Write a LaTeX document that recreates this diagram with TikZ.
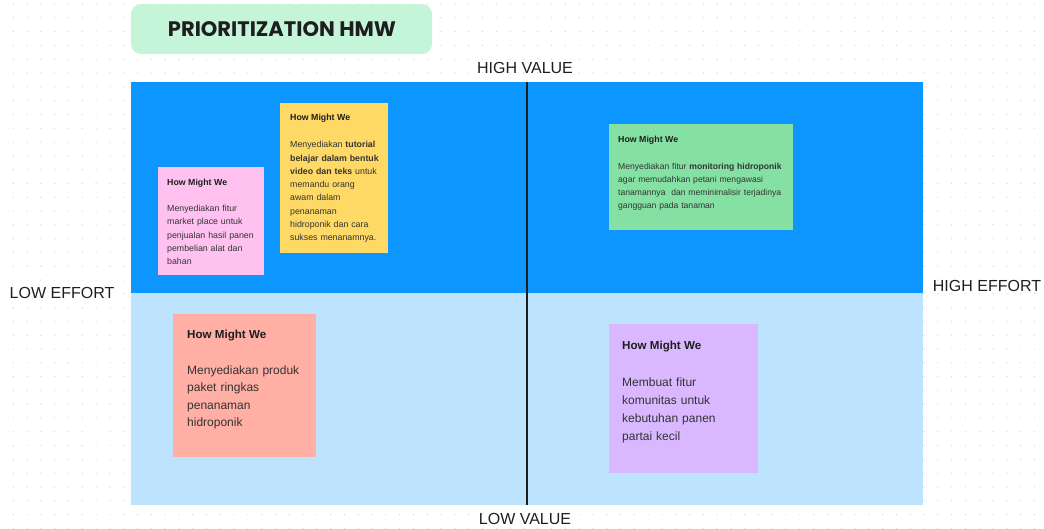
\documentclass[tikz,border=0pt]{standalone}
\usepackage{fontspec}
\setmainfont{Liberation Sans}
\newfontfamily\titlefont{Poppins}
\definecolor{ink}{HTML}{1E1E1E}
\definecolor{bodyink}{HTML}{333333}
\definecolor{dotgray}{HTML}{D6D6D6}
\definecolor{topblue}{HTML}{0D96FF}
\definecolor{lowblue}{HTML}{BDE3FF}
\definecolor{titlegreen}{HTML}{C5F5D9}
\definecolor{notepink}{HTML}{FFC2F0}
\definecolor{noteyellow}{HTML}{FFD966}
\definecolor{notegreen}{HTML}{85E0A3}
\definecolor{notesalmon}{HTML}{FFAFA3}
\definecolor{notepurple}{HTML}{D9B8FF}
\begin{document}
\begin{tikzpicture}[x=1pt,y=-1pt,
  sticky/.style={anchor=north west, inner sep=0pt, outer sep=0pt},
  axislabel/.style={inner sep=0pt, text=ink, font=\fontsize{16}{18}\selectfont},
  hmwsmall/.style={anchor=base west, inner sep=0pt, text=ink, font=\fontsize{8.8}{10}\selectfont\bfseries},
  hmwlarge/.style={anchor=base west, inner sep=0pt, text=ink, font=\fontsize{11.6}{13}\selectfont\bfseries},
  bodysmall/.style={anchor=base west, inner sep=0pt, text=bodyink, align=left, text width=#1},
  bodysmall/.default=160pt]
\useasboundingbox (0,0) rectangle (1044,528);

% dotted canvas
\foreach \i in {0,...,76}
  \foreach \j in {0,...,38}
    \fill[dotgray] (\i*13.8-0.5, 4+\j*13.8) circle (0.7);

% title banner
\node[sticky, rounded corners=10pt, fill=titlegreen, minimum width=301pt, minimum height=50pt] (banner) at (131,4) {};
\node[inner sep=0pt, text=ink, font=\titlefont\fontsize{21}{24}\selectfont\bfseries] (bannertext) at (282,29.5) {PRIORITIZATION HMW};

% quadrants
\node[sticky, fill=topblue, minimum width=792pt, minimum height=211pt] (upper) at (131,82) {};
\node[sticky, fill=lowblue, minimum width=792pt, minimum height=212pt] (lower) at (131,293) {};
\coordinate (axistop) at (527,82);
\coordinate (axisbottom) at (527,505);
\draw[ink, line width=2.6pt] (axistop) -- (axisbottom);

% axis labels
\node[axislabel] (highvalue) at (525,68) {HIGH VALUE};
\node[axislabel] (lowvalue) at (525,519) {LOW VALUE};
\node[axislabel] (loweffort) at (62,293) {LOW EFFORT};
\node[axislabel] (higheffort) at (987,286) {HIGH EFFORT};

% pink note
\node[sticky, fill=notepink, minimum width=106pt, minimum height=108pt] (pinknote) at (158,167) {};
\node[hmwsmall] (pinktitle) at (167,185.7) {How Might We};
\node[bodysmall, font=\fontsize{8.8}{13.2}\selectfont] (pinkbody) at (167,211.7)
  {Menyediakan fitur\\market place untuk\\penjualan hasil panen\\pembelian alat dan\\bahan};

% yellow note
\node[sticky, fill=noteyellow, minimum width=108pt, minimum height=150pt] (yellownote) at (280,103) {};
\node[hmwsmall] (yellowtitle) at (290,120.7) {How Might We};
\node[bodysmall, font=\fontsize{8.8}{13.3}\selectfont] (yellowbody) at (290,147.7)
  {Menyediakan \textbf{tutorial}\\\textbf{belajar dalam bentuk}\\\textbf{video dan teks} untuk\\memandu orang\\awam dalam\\penanaman\\hidroponik dan cara\\sukses menanamnya.};

% green note
\node[sticky, fill=notegreen, minimum width=184pt, minimum height=106pt] (greennote) at (609,124) {};
\node[hmwsmall] (greentitle) at (618,142.7) {How Might We};
\node[bodysmall=200pt, font=\fontsize{8.6}{12.9}\selectfont] (greenbody) at (618,169.5)
  {Menyediakan fitur \textbf{monitoring hidroponik}\\agar memudahkan petani mengawasi\\tanamannya\ \ dan meminimalisir terjadinya\\gangguan pada tanaman};

% salmon note
\node[sticky, fill=notesalmon, minimum width=143pt, minimum height=143pt] (salmonnote) at (173,314) {};
\node[hmwlarge] (salmontitle) at (187,338.5) {How Might We};
\node[bodysmall, font=\fontsize{12}{17.2}\selectfont] (salmonbody) at (187,374.6)
  {Menyediakan produk\\paket ringkas\\penanaman\\hidroponik};

% purple note
\node[sticky, fill=notepurple, minimum width=149pt, minimum height=149pt] (purplenote) at (609,324) {};
\node[hmwlarge] (purpletitle) at (622,349.5) {How Might We};
\node[bodysmall, font=\fontsize{12}{18}\selectfont] (purplebody) at (622,386.6)
  {Membuat fitur\\komunitas untuk\\kebutuhan panen\\partai kecil};
\end{tikzpicture}
\end{document}
